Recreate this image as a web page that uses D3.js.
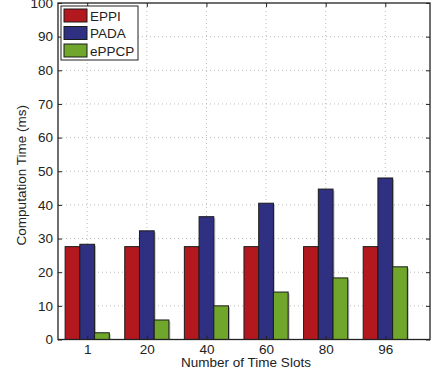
<!DOCTYPE html>
<html>
<head>
<meta charset="utf-8">
<script src="https://cdn.jsdelivr.net/npm/d3@7"></script>
<style>
  body { margin: 0; background: #fff; }
  text { font-family: "Liberation Sans", Arial, sans-serif; fill: #222; }
</style>
</head>
<body>
<div class="chart"></div>
<script>
// data
var categories = ["1", "20", "40", "60", "80", "96"];
var seriesNames = ["EPPI", "PADA", "ePPCP"];
var eppi  = [27.6, 27.6, 27.6, 27.6, 27.6, 27.6];
var pada  = [28.3, 32.3, 36.5, 40.5, 44.7, 48.0];
var eppcp = [2.0, 5.8, 10.0, 14.1, 18.3, 21.6];
var yTicks = [0, 10, 20, 30, 40, 50, 60, 70, 80, 90, 100];
var colors = ["#b3181f", "#2f3082", "#6fa62b"];

var series = [eppi, pada, eppcp];

var width = 446, height = 376;
var mLeft = 58, mRight = 430, mTop = 3, mBottom = 339.5;

var svg = d3.select(".chart").append("svg")
    .attr("width", width)
    .attr("height", height);

// x position in "bar units" like matlab: group i at i+1
var x = d3.scaleLinear().domain([0.51, 6.75]).range([mLeft, mRight]);
var y = d3.scaleLinear().domain([0, 100]).range([mBottom, mTop]);
var barW = 0.247;

// grid
svg.append("g").selectAll("line")
    .data(yTicks.slice(1, -1))
    .enter().append("line")
    .attr("x1", mLeft).attr("x2", mRight)
    .attr("y1", function (d) { return y(d); })
    .attr("y2", function (d) { return y(d); })
    .attr("stroke", "#bbb").attr("stroke-width", 1)
    .attr("stroke-dasharray", "1,3");

svg.append("g").selectAll("line")
    .data(categories)
    .enter().append("line")
    .attr("x1", function (d, i) { return x(i + 1); })
    .attr("x2", function (d, i) { return x(i + 1); })
    .attr("y1", mTop).attr("y2", mBottom)
    .attr("stroke", "#bbb").attr("stroke-width", 1)
    .attr("stroke-dasharray", "1,3");

// bars
series.forEach(function (vals, s) {
    var off = (s - 1) * barW;
    // faint shadow
    svg.append("g").selectAll("rect").data(vals).enter().append("rect")
        .attr("x", function (d, i) { return x(i + 1 + off - barW / 2) + 1.5; })
        .attr("y", function (d) { return y(d) + 1.5; })
        .attr("width", x(barW) - x(0))
        .attr("height", function (d) { return mBottom - y(d) - 1.5; })
        .attr("fill", "#999").attr("opacity", 0.6);
    svg.append("g").selectAll("rect").data(vals).enter().append("rect")
        .attr("x", function (d, i) { return x(i + 1 + off - barW / 2); })
        .attr("y", function (d) { return y(d); })
        .attr("width", x(barW) - x(0))
        .attr("height", function (d) { return mBottom - y(d); })
        .attr("fill", colors[s])
        .attr("stroke", "#1a1a1a").attr("stroke-width", 1);
});

// axes box
svg.append("rect")
    .attr("x", mLeft).attr("y", mTop)
    .attr("width", mRight - mLeft).attr("height", mBottom - mTop)
    .attr("fill", "none").attr("stroke", "#222").attr("stroke-width", 1.3);

var yAxisL = d3.axisLeft(y).tickValues(yTicks).tickSizeInner(-4).tickSizeOuter(0).tickPadding(5);
var gyl = svg.append("g").attr("transform", "translate(" + mLeft + ",0)").call(yAxisL);
gyl.select(".domain").remove();
gyl.selectAll("text").attr("font-size", 13.5).style("fill", "#222");
gyl.selectAll("line").attr("stroke", "#222");

var yAxisR = d3.axisRight(y).tickValues(yTicks).tickSizeInner(-4).tickSizeOuter(0).tickFormat("");
var gyr = svg.append("g").attr("transform", "translate(" + mRight + ",0)").call(yAxisR);
gyr.select(".domain").remove();
gyr.selectAll("line").attr("stroke", "#222");

var xAxisB = d3.axisBottom(x).tickValues([1, 2, 3, 4, 5, 6])
    .tickFormat(function (d) { return categories[d - 1]; })
    .tickSizeInner(-4).tickSizeOuter(0).tickPadding(5);
var gxb = svg.append("g").attr("transform", "translate(0," + mBottom + ")").call(xAxisB);
gxb.select(".domain").remove();
gxb.selectAll("text").attr("font-size", 13.5).style("fill", "#222");
gxb.selectAll("line").attr("stroke", "#222");

var xAxisT = d3.axisTop(x).tickValues([1, 2, 3, 4, 5, 6]).tickSizeInner(-4).tickSizeOuter(0).tickFormat("");
var gxt = svg.append("g").attr("transform", "translate(0," + mTop + ")").call(xAxisT);
gxt.select(".domain").remove();
gxt.selectAll("line").attr("stroke", "#222");

// axis titles
svg.append("text")
    .attr("x", (mLeft + mRight) / 2 + 2).attr("y", 367)
    .attr("text-anchor", "middle").attr("font-size", 13.5)
    .text("Number of Time Slots");

svg.append("text")
    .attr("transform", "translate(26," + ((mTop + mBottom) / 2 + 4) + ") rotate(-90)")
    .attr("text-anchor", "middle").attr("font-size", 13.5)
    .text("Computation Time (ms)");

// legend
var lg = svg.append("g");
lg.append("rect")
    .attr("x", 61).attr("y", 6).attr("width", 77).attr("height", 54)
    .attr("fill", "#fff").attr("stroke", "#222").attr("stroke-width", 1);
seriesNames.forEach(function (n, i) {
    var cy = 15.5 + i * 17.5;
    lg.append("rect")
        .attr("x", 64).attr("y", cy - 6.5).attr("width", 23).attr("height", 13)
        .attr("fill", colors[i]).attr("stroke", "#1a1a1a").attr("stroke-width", 1);
    lg.append("text")
        .attr("x", 90).attr("y", cy + 5)
        .attr("font-size", 13.5)
        .text(n);
});
</script>
</body>
</html>
